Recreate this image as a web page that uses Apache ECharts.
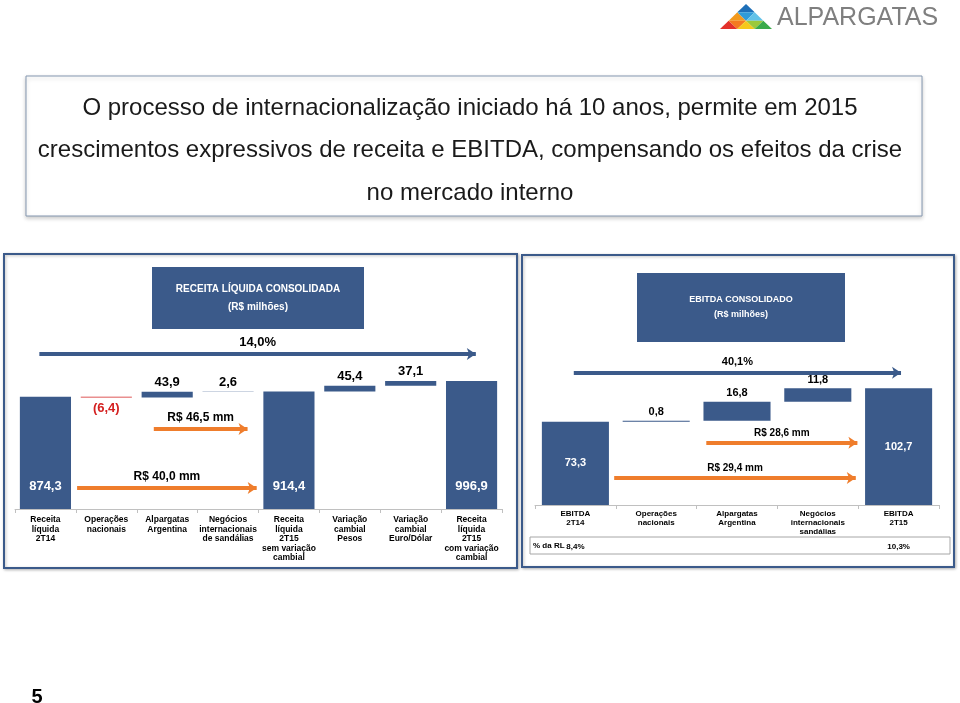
<!DOCTYPE html>
<html>
<head>
<meta charset="utf-8">
<script src="https://cdn.jsdelivr.net/npm/echarts/dist/echarts.min.js"></script>
<style>
    html, body { margin: 0; padding: 0; background: #fff; }
    #main { width: 960px; height: 703px; }
</style>
</head>
<body>
<div id="main"></div>
<script>
// receita liquida consolidada
var revCategories = ['Receita\nlíquida\n2T14', 'Operações\nnacionais', 'Alpargatas\nArgentina',
    'Negócios\ninternacionais\nde sandálias', 'Receita\nlíquida\n2T15\nsem variação\ncambial',
    'Variação\ncambial\nPesos', 'Variação\ncambial\nEuro/Dólar', 'Receita\nlíquida\n2T15\ncom variação\ncambial'];
var revValues = [874.3, -6.4, 43.9, 2.6, 914.4, 45.4, 37.1, 996.9];
var revIsTotal = [true, false, false, false, true, false, false, true];
var revArrowText = ['14,0%', 'R$ 46,5 mm', 'R$ 40,0 mm'];
var revArrowFrom = [-0.1, 1.78, 0.52];
var revArrowTo = [7.07, 3.32, 3.47];
var revArrowLevel = [1207, 623, 163];

// ebitda consolidado
var ebitdaCategories = ['EBITDA\n2T14', 'Operações\nnacionais', 'Alpargatas\nArgentina',
    'Negócios\ninternacionais\nsandálias', 'EBITDA\n2T15'];
var ebitdaValues = [73.3, 0.8, 16.8, 11.8, 102.7];
var ebitdaIsTotal = [true, false, false, false, true];
var ebitdaMargin = ['8,4%', '', '', '', '10,3%'];
var ebitdaArrowText = ['40,1%', 'R$ 28,6 mm', 'R$ 29,4 mm'];
var ebitdaArrowFrom = [-0.02, 1.62, 0.48];
var ebitdaArrowTo = [4.03, 3.49, 3.47];
var ebitdaArrowLevel = [116.5, 54.8, 23.8];

var FONT = 'Arial, "Liberation Sans", sans-serif';
var BLUE = '#3b5a8a';
var ORANGE = '#ef7d2c';
var RED = '#d42020';

function fmt(v) {
    var s = Math.abs(v).toFixed(1).replace('.', ',');
    return v < 0 ? '(' + s + ')' : s;
}

//monta base invisivel + barra visivel
function waterfall(values, isTotal, fontSize, totalPos, totalDist) {
    var base = [], bars = [], run = 0;
    values.forEach(function (v, i) {
        var label;
        if (isTotal[i]) {
            base.push(0);
            run = v;
            label = {position: totalPos, distance: totalDist, color: '#fff'};
        } else if (v >= 0) {
            base.push(run);
            run += v;
            label = {position: 'top', distance: 3, color: '#000'};
        } else {
            run += v;
            base.push(run);
            label = {position: 'bottom', distance: 4, color: RED};
        }
        label.show = true;
        label.formatter = fmt(v);
        label.fontSize = fontSize;
        label.fontWeight = 'bold';
        label.fontFamily = FONT;
        bars.push({
            value: Math.abs(v),
            itemStyle: {color: v < 0 ? RED : BLUE},
            label: label
        });
    });
    return {base: base, bars: bars};
}

function arrows(text, from, to, level, big) {
    return text.map(function (t, i) {
        var color = i === 0 ? BLUE : ORANGE;
        return [{
            coord: [from[i], level[i]],
            lineStyle: {color: color, width: 4, type: 'solid'},
            label: {
                show: true, position: 'middle', formatter: t, color: '#000',
                fontWeight: 'bold', fontFamily: FONT,
                fontSize: i === 0 ? big : big - 1, distance: 5
            }
        }, {coord: [to[i], level[i]]}];
    });
}

var rev = waterfall(revValues, revIsTotal, 13, 'insideBottom', 16);
var ebt = waterfall(ebitdaValues, ebitdaIsTotal, 11, 'inside', 0);

function catAxis(gridIndex, data, size, lh, margin) {
    return {
        type: 'category', gridIndex: gridIndex, data: data,
        axisLine: {lineStyle: {color: '#c0c0c0'}},
        axisTick: {show: true, length: 4, lineStyle: {color: '#c0c0c0'}},
        axisLabel: {
            interval: 0, color: '#000', fontWeight: 'bold', fontFamily: FONT,
            fontSize: size, lineHeight: lh, margin: margin
        }
    };
}

// logo: triangulos coloridos
var logoColors = [['#1d6fb8'], ['#f29a1e', '#2f9bd8', '#62c2e8'],
    ['#e3312b', '#f47a20', '#f6c81b', '#9cc93b', '#3aaa49']];
var logo = [];
(function () {
    var px = 746, py = 4, h = 8.33, w = 8.67;
    logoColors.forEach(function (row, r) {
        var y0 = py + r * h, y1 = y0 + h;
        row.forEach(function (c, k) {
            var j = Math.floor(k / 2), pts;
            var ax = px + (2 * j - r) * w;
            if (k % 2 === 0) {
                pts = [[ax, y0], [ax - w, y1], [ax + w, y1]];
            } else {
                pts = [[ax, y0], [ax + 2 * w, y0], [ax + w, y1]];
            }
            logo.push({type: 'polygon', shape: {points: pts}, style: {fill: c}, silent: true});
        });
    });
})();

var myChart = echarts.init(document.getElementById('main'));
myChart.setOption({
    backgroundColor: '#fff',
    animation: false,
    title: {
        text: 'O processo de internacionalização iniciado há 10 anos, permite em 2015\n' +
            'crescimentos expressivos de receita e EBITDA, compensando os efeitos da crise\n' +
            'no mercado interno',
        left: 465, top: 82, textAlign: 'center',
        textStyle: {fontSize: 24, fontWeight: 'normal', color: '#1a1a1a', lineHeight: 42.5, fontFamily: FONT}
    },
    graphic: logo.concat([
        {type: 'text', left: 777, top: 6, silent: true,
            style: {text: 'ALPARGATAS', fill: '#7f7f7f', fontSize: 25, fontFamily: FONT}},
        {type: 'rect', shape: {x: 26, y: 76, width: 896, height: 140}, silent: true, z: -1,
            style: {fill: '#fff', stroke: '#8497b0', lineWidth: 1, shadowBlur: 4, shadowColor: 'rgba(0,0,0,0.2)', shadowOffsetY: 2}},
        {type: 'rect', shape: {x: 4, y: 254, width: 513, height: 314}, silent: true, z: -1,
            style: {fill: '#fff', stroke: BLUE, lineWidth: 2, shadowBlur: 3, shadowColor: 'rgba(0,0,0,0.25)', shadowOffsetX: 1, shadowOffsetY: 1}},
        {type: 'rect', shape: {x: 522, y: 255, width: 432, height: 312}, silent: true, z: -1,
            style: {fill: '#fff', stroke: BLUE, lineWidth: 2, shadowBlur: 3, shadowColor: 'rgba(0,0,0,0.25)', shadowOffsetX: 1, shadowOffsetY: 1}},
        {type: 'rect', shape: {x: 152, y: 267, width: 212, height: 62}, silent: true,
            style: {fill: BLUE}},
        {type: 'text', x: 258, y: 289, silent: true,
            style: {text: 'RECEITA LÍQUIDA CONSOLIDADA', fill: '#fff', fontSize: 10, fontWeight: 'bold', fontFamily: FONT, align: 'center', verticalAlign: 'middle'}},
        {type: 'text', x: 258, y: 307, silent: true,
            style: {text: '(R$ milhões)', fill: '#fff', fontSize: 10, fontWeight: 'bold', fontFamily: FONT, align: 'center', verticalAlign: 'middle'}},
        {type: 'rect', shape: {x: 637, y: 273, width: 208, height: 69}, silent: true,
            style: {fill: BLUE}},
        {type: 'text', x: 741, y: 300, silent: true,
            style: {text: 'EBITDA CONSOLIDADO', fill: '#fff', fontSize: 9, fontWeight: 'bold', fontFamily: FONT, align: 'center', verticalAlign: 'middle'}},
        {type: 'text', x: 741, y: 315, silent: true,
            style: {text: '(R$ milhões)', fill: '#fff', fontSize: 9, fontWeight: 'bold', fontFamily: FONT, align: 'center', verticalAlign: 'middle'}},
        {type: 'rect', shape: {x: 530, y: 537, width: 420, height: 17}, silent: true,
            style: {fill: 'none', stroke: '#a6a6a6', lineWidth: 1}},
        {type: 'text', x: 533, y: 546, silent: true,
            style: {text: '% da RL', fill: '#000', fontSize: 8, fontWeight: 'bold', fontFamily: FONT, verticalAlign: 'middle'}},
        {type: 'text', x: 37, y: 697, silent: true,
            style: {text: '5', fill: '#000', fontSize: 20, fontWeight: 'bold', fontFamily: FONT, align: 'center', verticalAlign: 'middle'}}
    ]),
    grid: [
        {left: 15, right: 458, top: 342, height: 167},
        {left: 535, right: 21, top: 346, height: 159}
    ],
    xAxis: [
        catAxis(0, revCategories, 8.5, 9.5, 6),
        {type: 'value', gridIndex: 0, min: -0.5, max: revCategories.length - 0.5, show: false},
        catAxis(1, ebitdaCategories, 8, 9, 4),
        {type: 'value', gridIndex: 1, min: -0.5, max: ebitdaCategories.length - 0.5, show: false},
        {
            type: 'category', gridIndex: 1, data: ebitdaMargin, position: 'bottom', offset: 34,
            axisLine: {show: false}, axisTick: {show: false},
            axisLabel: {interval: 0, color: '#000', fontWeight: 'bold', fontFamily: FONT, fontSize: 8, margin: 4}
        }
    ],
    yAxis: [
        {type: 'value', gridIndex: 0, min: 0, max: 1300, show: false},
        {type: 'value', gridIndex: 1, min: 0, max: 140, show: false}
    ],
    series: [
        {type: 'bar', xAxisIndex: 0, yAxisIndex: 0, stack: 'rev', data: rev.base,
            itemStyle: {color: 'transparent'}, barCategoryGap: '16%', silent: true},
        {type: 'bar', xAxisIndex: 0, yAxisIndex: 0, stack: 'rev', data: rev.bars, barCategoryGap: '16%'},
        {type: 'bar', xAxisIndex: 2, yAxisIndex: 1, stack: 'ebt', data: ebt.base,
            itemStyle: {color: 'transparent'}, barCategoryGap: '17%', silent: true},
        {type: 'bar', xAxisIndex: 2, yAxisIndex: 1, stack: 'ebt', data: ebt.bars, barCategoryGap: '17%'},
        {type: 'line', xAxisIndex: 1, yAxisIndex: 0, data: [],
            markLine: {silent: true, symbol: ['none', 'arrow'], symbolSize: 9, animation: false,
                data: arrows(revArrowText, revArrowFrom, revArrowTo, revArrowLevel, 13)}},
        {type: 'line', xAxisIndex: 3, yAxisIndex: 1, data: [],
            markLine: {silent: true, symbol: ['none', 'arrow'], symbolSize: 9, animation: false,
                data: arrows(ebitdaArrowText, ebitdaArrowFrom, ebitdaArrowTo, ebitdaArrowLevel, 11)}}
    ]
});
</script>
</body>
</html>
